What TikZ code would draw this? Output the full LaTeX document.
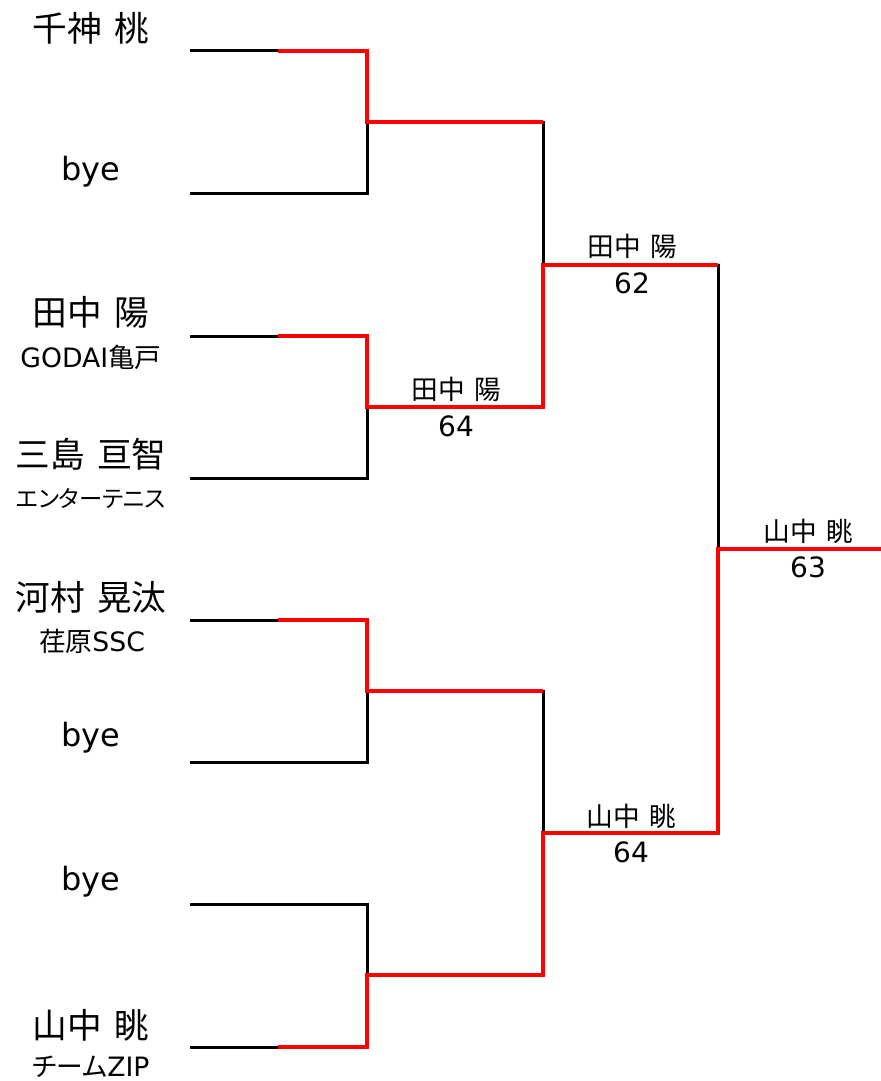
\documentclass[tikz,border=0pt]{standalone}
\usepackage{fontspec}
\setmainfont{DejaVu Sans}
\newfontfamily\cjk{Noto Sans CJK JP}
\newfontfamily\cjkp{Noto Sans CJK JP}[RawFeature=+palt]
\newcommand{\nsp}{\hspace{0.35em}}
\begin{document}
\begin{tikzpicture}[x=0.75pt,y=-0.75pt,
  blk/.style={draw=black,line width=2.25pt,line join=miter},
  redl/.style={draw={rgb,255:red,255;green,0;blue,0},line width=3.4pt,line join=miter},
  pname/.style={inner sep=0pt,font=\fontsize{26}{30}\selectfont},
  byet/.style={inner sep=0pt,font=\fontsize{24}{28}\selectfont},
  subt/.style={inner sep=0pt,font=\fontsize{20}{24}\selectfont},
  subk/.style={inner sep=0pt,font=\fontsize{17.5}{22}\selectfont},
  lbl/.style={inner sep=0pt,font=\fontsize{20}{24}\selectfont},
  score/.style={inner sep=0pt,font=\fontsize{21}{24}\selectfont}]
\useasboundingbox (0,0) rectangle (881,1081);
\foreach \i/\y in {1/51,2/193,3/336,4/478,5/620,6/762,7/904,8/1047}{
  \coordinate (L\i) at (190,\y);
  \coordinate (R\i) at (278,\y);
  \coordinate (J\i) at (367,\y);
}
\coordinate (M1) at (367,122); \coordinate (N1) at (543,122);
\coordinate (M2) at (367,407); \coordinate (N2) at (543,407);
\coordinate (M3) at (367,691); \coordinate (N3) at (543,691);
\coordinate (M4) at (367,975); \coordinate (N4) at (543,975);
\coordinate (P1) at (543,265); \coordinate (Q1) at (718,265);
\coordinate (P2) at (543,833); \coordinate (Q2) at (718,833);
\coordinate (F1) at (718,549); \coordinate (F2) at (900,549);
% black bracket
\draw[blk] (L1) -- (J1) -- (J2) -- (L2);
\draw[blk] (L3) -- (J3) -- (J4) -- (L4);
\draw[blk] (L5) -- (J5) -- (J6) -- (L6);
\draw[blk] (L7) -- (J7) -- (J8) -- (L8);
\draw[blk] (M1) -- (N1) -- (N2) -- (M2);
\draw[blk] (M3) -- (N3) -- (N4) -- (M4);
\draw[blk] (P1) -- (Q1) -- (Q2) -- (P2);
\draw[blk] (F1) -- (F2);
% red winners
\draw[redl] (R1) -- (J1) -- (M1) -- (N1);
\draw[redl] (R3) -- (J3) -- (M2) -- (N2) -- (P1) -- (Q1);
\draw[redl] (R5) -- (J5) -- (M3) -- (N3);
\draw[redl] (R8) -- (J8) -- (M4) -- (N4) -- (P2) -- (Q2) -- (F1) -- (F2);
% players
\node[pname] (n1) at (91,28) {\cjk 千神\nsp 桃};
\node[byet] (n2) at (91,172) {bye};
\node[pname] (n3) at (91,312) {\cjk 田中\nsp 陽};
\node[subt] (t3) at (91,357) {GODAI{\cjk 亀戸}};
\node[pname] (n4) at (91,454) {\cjk 三島\nsp 亘智};
\node[subk] (t4) at (91,499) {\cjkp エンターテニス};
\node[pname] (n5) at (91,597) {\cjk 河村\nsp 晃汰};
\node[subt] (t5) at (92,641) {{\cjk 荏原}SSC};
\node[byet] (n6) at (91,738) {bye};
\node[byet] (n7) at (91,882) {bye};
\node[pname] (n8) at (91,1025) {\cjk 山中\nsp 眺};
\node[subt] (t8) at (91,1067) {{\cjkp チーム}ZIP};
% winners and scores
\node[lbl] (w1) at (456,389) {\cjk 田中\nsp 陽};
\node[score] (s1) at (456,426) {64};
\node[lbl] (w2) at (632,246) {\cjk 田中\nsp 陽};
\node[score] (s2) at (632,283) {62};
\node[lbl] (w3) at (631,816) {\cjk 山中\nsp 眺};
\node[score] (s3) at (631,852) {64};
\node[lbl] (w4) at (808,531) {\cjk 山中\nsp 眺};
\node[score] (s4) at (808,567) {63};
\end{tikzpicture}
\end{document}
